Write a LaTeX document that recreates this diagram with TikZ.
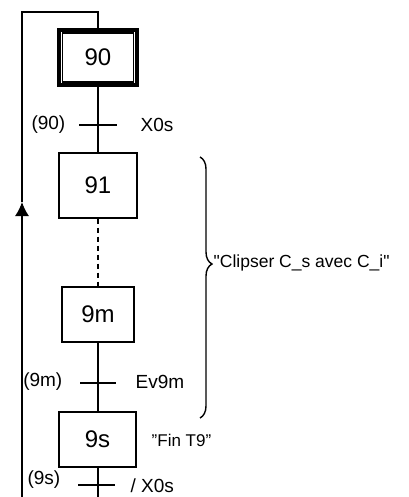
\documentclass[tikz,border=0pt]{standalone}
\usepackage{fontspec}
\setmainfont{Liberation Sans}[Ligatures=TeXOff]
\usetikzlibrary{arrows.meta,positioning,decorations.pathreplacing}

\begin{document}
\begin{tikzpicture}[x=1pt,y=-1pt,>=Latex,line width=1.4pt,
  stepbox/.style={draw,line width=1.4pt,inner sep=0pt,font=\fontsize{24}{26}\selectfont},
  lbl/.style={inner sep=0pt,font=\fontsize{19}{21}\selectfont}]
\useasboundingbox (0,0) rectangle (408,497);
% steps
\node[stepbox,line width=4pt,minimum width=78,minimum height=55] (f90) at (98,57.5) {};
\node[stepbox,minimum width=71,minimum height=49] (s90) at (98,57.5) {90};
\node[stepbox,minimum width=78,minimum height=65] (s91) at (98,185.5) {91};
\node[stepbox,minimum width=72,minimum height=55] (s9m) at (98,314.5) {9m};
\node[stepbox,minimum width=77,minimum height=55] (s9s) at (97.5,439.5) {9s};
% transitions
\coordinate (t90) at (98,125);
\coordinate (t9m) at (98,383);
\coordinate (t9s) at (98,485);
\coordinate (bot) at (98,497);
\draw (f90.south) -- (s91.north);
\draw[dash pattern=on 5pt off 4pt] (s91.south) -- (s9m.north);
\draw (s9m.south) -- (s9m.south |- s9s.north);
\draw (s9s.south -| bot) -- (bot);
\draw ([xshift=-19pt]t90) -- ([xshift=19pt]t90);
\draw ([xshift=-18pt]t9m) -- ([xshift=18pt]t9m);
\draw ([xshift=-20pt]t9s) -- ([xshift=17pt]t9s);
\node[lbl,anchor=east] (r90) at (66,125) {(90)};
\node[lbl,anchor=west] (c90) at (140,125) {X0s};
\node[lbl,anchor=east] (r9m) at (63,382) {(9m)};
\node[lbl,anchor=west] (c9m) at (135,382) {Ev9m};
\node[lbl,anchor=east] (r9s) at (61,480) {(9s)};
\node[lbl,anchor=west] (c9s) at (130,486) {/ X0s};
\node[lbl,anchor=west,font=\fontsize{17}{19}\selectfont] (a9s) at (151,440) {”Fin T9”};
% loop back
\coordinate (lpb) at (22,497);
\coordinate (lpa) at (22,202);
\coordinate (lpt) at (22,12);
\draw[-{Latex[length=14pt,width=14pt]}] (lpb) -- (lpa);
\draw (lpa) -- (lpt) -| (f90.north);
% brace
\coordinate (br1) at (200,157);
\coordinate (br2) at (200,418);
\draw[decorate,decoration={brace,amplitude=12pt,aspect=0.41}] (br1) -- (br2);
\node[lbl,anchor=west,font=\fontsize{17.5}{19}\selectfont] (clip) at (213,263) {"Clipser C\_s avec C\_i"};
\end{tikzpicture}
\end{document}
